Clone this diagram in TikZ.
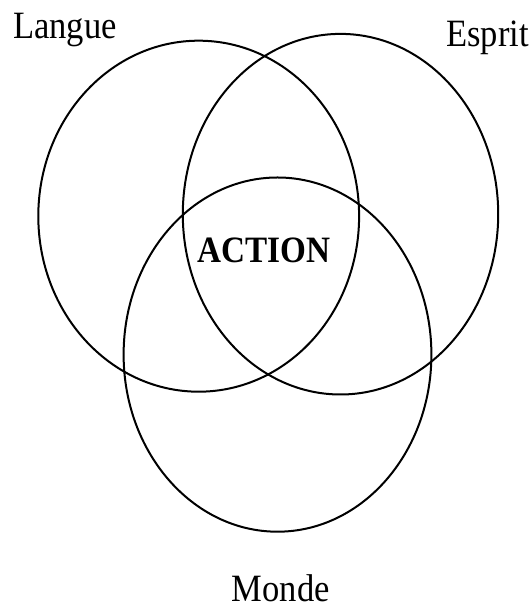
\documentclass[tikz,border=0pt]{standalone}
\usepackage{fontspec}
\setmainfont{Liberation Serif}
\usepackage{tikz}
\usetikzlibrary{positioning}
\tikzset{
  % one of the three sets
  setring/.style={draw=black, line width=1.5pt},
  % name of a set
  setlabel/.style={anchor=base, inner sep=0pt, font=\fontsize{25.9}{30}\selectfont},
  % word in the common part
  corelabel/.style={anchor=base, inner sep=0pt, font=\fontsize{24.9}{30}\selectfont\bfseries},
}
\newcommand{\tall}[1]{\scalebox{1}[1.12]{#1}}

\begin{document}
\begin{tikzpicture}[x=0.75pt, y=0.75pt]
  \useasboundingbox (0,0) rectangle (530,606);

  % ── the three sets ──
  \draw[setring] (198.7,389.8) ellipse [x radius=160.4, y radius=175.5];
  \draw[setring] (340.5,391.8) ellipse [x radius=157.7, y radius=180.3];
  \draw[setring] (277.5,251.4) ellipse [x radius=153.9, y radius=177.1];

  % ── names ──
  \node[setlabel] (langue) at (65,567.7) {\tall{Langue}};
  \node[setlabel] (esprit) at (487.5,559.3) {\tall{Esprit}};
  \node[setlabel] (monde) at (280.8,4.3) {\tall{Monde}};
  \node[corelabel] (action) at (263.7,343.3) {\tall{ACTION}};

\end{tikzpicture}
\end{document}
